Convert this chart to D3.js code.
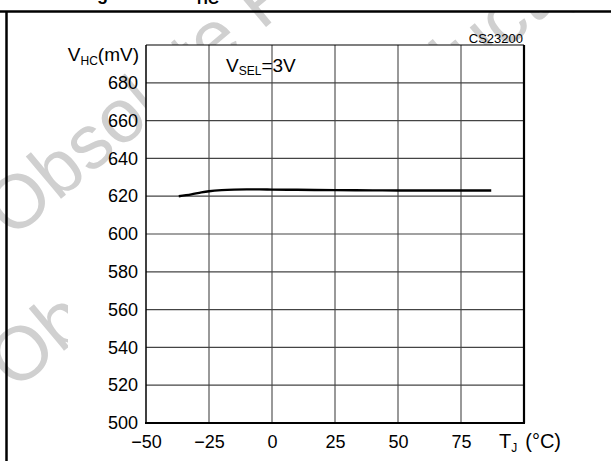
<!DOCTYPE html>
<html>
<head>
<meta charset="utf-8">
<script src="https://cdn.jsdelivr.net/npm/d3@7"></script>
<style>
  body { margin: 0; background: white; }
  svg { display: block; font-family: "Liberation Sans", Arial, sans-serif; }
  .tick text { font-size: 18px; fill: black; }
  .wm { font-size: 76px; fill: #d0d0d0; }
</style>
</head>
<body>
<svg id="chart" width="611" height="461"></svg>
<script>
// data (V_SEL = 3V)
var tj = [-37, -32, -28, -25, -20, -15, -10, -5, 0, 10, 25, 40, 50, 65, 75, 87];
var vhc = [620, 621, 622, 622.6, 623.2, 623.5, 623.6, 623.6, 623.5, 623.4, 623.2, 623.1, 623.0, 623.0, 623.0, 623.0];
var xTicks = [-50, -25, 0, 25, 50, 75];
var yTicks = [500, 520, 540, 560, 580, 600, 620, 640, 660, 680];

var margin = { top: 45, left: 146, bottom: 38, right: 87 };
var svg = d3.select("#chart");
var width = 611 - margin.left - margin.right;
var height = 461 - margin.top - margin.bottom;

var defs = svg.append("defs");
defs.append("clipPath").attr("id", "clipLeft")
    .append("rect").attr("x", 0).attr("y", 0).attr("width", 68).attr("height", 461);
defs.append("clipPath").attr("id", "clipTop")
    .append("rect").attr("x", 330).attr("y", 12).attr("width", 281).attr("height", 33);

// watermarks (mostly hidden behind the plot area)
svg.append("text").attr("class", "wm")
    .attr("transform", "translate(12,240) rotate(-40)")
    .text("Obsolete Product(s)");
svg.append("g").attr("clip-path", "url(#clipLeft)")
    .append("text").attr("class", "wm")
    .attr("transform", "translate(15,392) rotate(-40)")
    .text("Obsolete Product(s)");
svg.append("g").attr("clip-path", "url(#clipTop)")
    .append("text").attr("class", "wm")
    .attr("transform", "translate(100,390) rotate(-40)")
    .text("Obsolete Product(s)");

// cut-off figure title at the very top
var title = svg.append("text").attr("x", 81).attr("y", 0)
    .style("font-size", "18px").style("font-weight", "bold");
title.append("tspan").text("Figure 12. V");
title.append("tspan").attr("dx", 14).attr("dy", 4).style("font-size", "15px").text("HC");

// outer frame
svg.append("line").attr("x1", 0).attr("x2", 611).attr("y1", 11.5).attr("y2", 11.5)
    .attr("stroke", "black").attr("stroke-width", 2.5);
svg.append("line").attr("x1", 6.5).attr("x2", 6.5).attr("y1", 11).attr("y2", 461)
    .attr("stroke", "black").attr("stroke-width", 2.5);

var xScale = d3.scaleLinear().domain([-50, 100]).range([0, width]);
var yScale = d3.scaleLinear().domain([500, 700]).range([height, 0]);

var xAxis = d3.axisBottom(xScale).tickValues(xTicks).tickSize(0).tickPadding(12)
    .tickFormat(d => d < 0 ? "\u2212" + Math.abs(d) : d);
var yAxis = d3.axisLeft(yScale).tickValues(yTicks).tickSize(0).tickPadding(8);

var labels = svg.append("g")
    .attr("transform", "translate(" + margin.left + "," + margin.top + ")");
labels.append("g").attr("transform", "translate(0," + height + ")").call(xAxis)
    .call(a => a.select(".domain").remove());
labels.append("g").call(yAxis).call(a => a.select(".domain").remove());

var yl = svg.append("text").attr("x", 139).attr("y", 61).attr("text-anchor", "end")
    .style("font-size", "19px");
yl.append("tspan").text("V");
yl.append("tspan").attr("dy", 4).style("font-size", "12px").text("HC");
yl.append("tspan").attr("dy", -4).text("(mV)");

var tl = svg.append("text").attr("x", 499).attr("y", 448).style("font-size", "20px");
tl.append("tspan").text("T");
tl.append("tspan").attr("dy", 4).style("font-size", "12px").text("J");
tl.append("tspan").attr("dy", -4).attr("dx", 8).text("(\u00b0C)");

svg.append("text").attr("x", 523).attr("y", 43).attr("text-anchor", "end")
    .style("font-size", "13px").text("CS23200");

// plot area
var g = svg.append("g")
    .attr("transform", "translate(" + margin.left + "," + margin.top + ")");

g.append("rect").attr("width", width).attr("height", height).attr("fill", "white");

g.selectAll(".vgrid")
    .data(d3.range(-25, 100, 25))
    .enter().append("line")
    .attr("x1", d => xScale(d)).attr("x2", d => xScale(d))
    .attr("y1", 0).attr("y2", height)
    .attr("stroke", "#555").attr("stroke-width", 1.2);
g.selectAll(".hgrid")
    .data(d3.range(520, 700, 20))
    .enter().append("line")
    .attr("x1", 0).attr("x2", width)
    .attr("y1", d => yScale(d)).attr("y2", d => yScale(d))
    .attr("stroke", "#444").attr("stroke-width", 1.2);

// plot border
g.append("line").attr("x1", 0).attr("x2", width).attr("y1", 0).attr("y2", 0)
    .attr("stroke", "black").attr("stroke-width", 1.2);
g.append("line").attr("x1", 0).attr("x2", 0).attr("y1", 0).attr("y2", height)
    .attr("stroke", "black").attr("stroke-width", 1.5);
g.append("line").attr("x1", -1).attr("x2", width + 1).attr("y1", height).attr("y2", height)
    .attr("stroke", "black").attr("stroke-width", 2.2);
g.append("line").attr("x1", width).attr("x2", width).attr("y1", 0).attr("y2", height)
    .attr("stroke", "black").attr("stroke-width", 2.2);

// curve
var line = d3.line()
    .x((d, i) => xScale(tj[i]))
    .y(d => yScale(d))
    .curve(d3.curveMonotoneX);
g.append("path")
    .datum(vhc)
    .attr("d", line)
    .attr("fill", "none")
    .attr("stroke", "black")
    .attr("stroke-width", 2.4);

var sel = svg.append("text").attr("x", 226).attr("y", 72).style("font-size", "19px");
sel.append("tspan").text("V");
sel.append("tspan").attr("dy", 3).style("font-size", "12px").text("SEL");
sel.append("tspan").attr("dy", -3).text("=3V");
</script>
</body>
</html>
